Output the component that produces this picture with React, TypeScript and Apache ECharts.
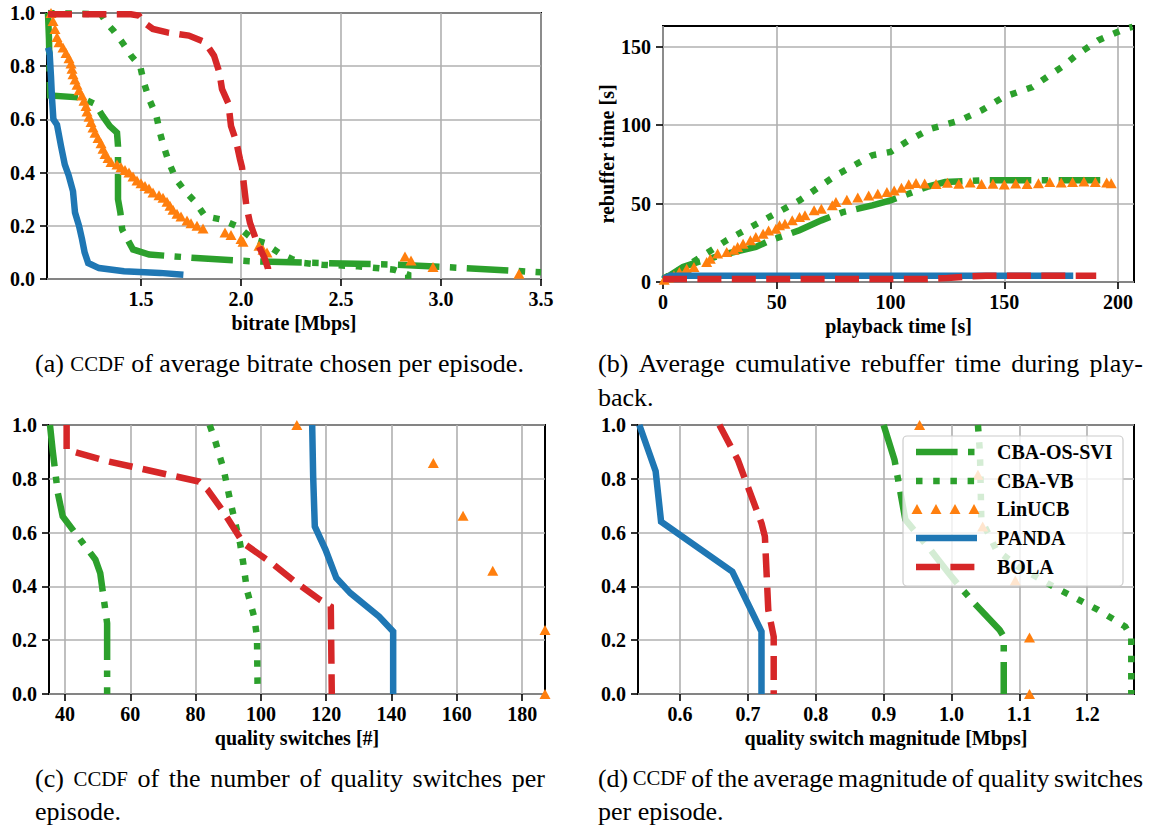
import React, { useEffect, useRef } from "react";
import * as echarts from "echarts";

// ---------- data ----------
// (a) CCDF of average bitrate [Mbps]
const bitrateOsSvi: number[][] = [[1.035, 1.0], [1.04, 0.9], [1.045, 0.69], [1.2, 0.682], [1.272, 0.657], [1.308, 0.613], [1.344, 0.575], [1.38, 0.55], [1.385, 0.5], [1.385, 0.3], [1.397, 0.249], [1.406, 0.186], [1.433, 0.148], [1.46, 0.111], [1.541, 0.092], [1.775, 0.079], [2.045, 0.067], [2.405, 0.06], [2.765, 0.054], [3.124, 0.041], [3.5, 0.025]];
const bitrateVb: number[][] = [[1.035, 1.0], [1.3, 0.995], [1.33, 0.96], [1.362, 0.934], [1.407, 0.889], [1.451, 0.839], [1.496, 0.8], [1.514, 0.739], [1.541, 0.676], [1.577, 0.613], [1.595, 0.55], [1.613, 0.5], [1.64, 0.437], [1.676, 0.374], [1.721, 0.33], [1.775, 0.286], [1.82, 0.236], [1.901, 0.224], [1.982, 0.198], [2.063, 0.148], [2.117, 0.136], [2.189, 0.098], [2.261, 0.073], [2.315, 0.06], [2.405, 0.054], [2.585, 0.048], [2.765, 0.035], [2.836, 0.016], [2.836, 0.0]];
const bitrateLinucb: number[][] = [[1.05, 1.0], [1.06, 0.97], [1.07, 0.94], [1.08, 0.91], [1.09, 0.89], [1.11, 0.87], [1.125, 0.85], [1.14, 0.83], [1.15, 0.81], [1.155, 0.79], [1.16, 0.77], [1.17, 0.75], [1.18, 0.73], [1.19, 0.71], [1.205, 0.69], [1.215, 0.67], [1.225, 0.65], [1.23, 0.63], [1.24, 0.61], [1.25, 0.59], [1.26, 0.57], [1.27, 0.55], [1.285, 0.53], [1.3, 0.51], [1.31, 0.49], [1.32, 0.47], [1.335, 0.455], [1.35, 0.44], [1.38, 0.43], [1.4, 0.42], [1.42, 0.41], [1.44, 0.4], [1.46, 0.385], [1.48, 0.37], [1.5, 0.36], [1.52, 0.35], [1.54, 0.34], [1.56, 0.325], [1.59, 0.315], [1.61, 0.305], [1.63, 0.29], [1.645, 0.275], [1.66, 0.26], [1.68, 0.245], [1.7, 0.235], [1.73, 0.22], [1.75, 0.21], [1.78, 0.2], [1.81, 0.19], [1.92, 0.175], [1.95, 0.165], [2.0, 0.15], [2.01, 0.14], [2.09, 0.125], [2.11, 0.11], [2.13, 0.1], [2.82, 0.085], [2.85, 0.07], [2.96, 0.045], [3.39, 0.02]];
const bitratePanda: number[][] = [[1.035, 0.87], [1.043, 0.85], [1.05, 0.76], [1.055, 0.68], [1.062, 0.6], [1.08, 0.58], [1.1, 0.5], [1.119, 0.43], [1.138, 0.39], [1.16, 0.33], [1.17, 0.25], [1.19, 0.2], [1.205, 0.15], [1.218, 0.1], [1.236, 0.06], [1.29, 0.041], [1.415, 0.029], [1.595, 0.023], [1.712, 0.016]];
const bitrateBola: number[][] = [[1.035, 0.995], [1.45, 0.995], [1.49, 0.99], [1.514, 0.965], [1.559, 0.94], [1.631, 0.927], [1.739, 0.915], [1.82, 0.89], [1.865, 0.84], [1.892, 0.776], [1.905, 0.714], [1.937, 0.66], [1.95, 0.575], [1.975, 0.52], [1.995, 0.45], [2.005, 0.42], [2.015, 0.35], [2.027, 0.274], [2.045, 0.211], [2.081, 0.136], [2.117, 0.08], [2.135, 0.04], [2.135, 0.0]];

// (b) cumulative rebuffer time [s] vs playback time [s]
const rebufOsSvi: number[][] = [[0, 1.5], [8.8, 9.6], [15.2, 12.7], [28, 18], [40.8, 22.3], [47.2, 26.6], [53.6, 29.7], [60, 33], [69.6, 39.3], [79.2, 44.6], [92, 48.9], [100, 52], [108, 56.3], [116, 60.6], [124, 63.7], [140, 64.8], [156, 64.8], [172, 64.8], [196.8, 64.8]];
const rebufVb: number[][] = [[0, 2], [12, 11.7], [28, 26.6], [44, 39.3], [60, 52], [76, 68], [92, 80.8], [100, 82.9], [108, 90.3], [117.6, 97.7], [130.4, 103], [140, 109.4], [149.6, 117.9], [162.4, 124.3], [168.8, 130.7], [175.2, 137], [181.6, 144.5], [191.2, 154], [203.2, 161.5], [206.4, 162.6]];
const rebufLinucb: number[][] = [[0.5, 1.5], [2.4, 2.8], [4.8, 4.2], [7.2, 6.4], [10.4, 8.5], [13.6, 9.6], [19.2, 12.7], [20.8, 14.9], [24, 18.1], [28, 19.1], [31.2, 20.6], [32.8, 22.3], [35.2, 24.4], [38.4, 26.6], [40.8, 28.7], [44, 30.8], [46.4, 32.9], [49.6, 34], [51.2, 36.1], [53.6, 37.2], [56.8, 39.3], [60, 41.4], [62.4, 42.5], [66.4, 45.7], [69.6, 46.7], [74.4, 48.9], [76, 51], [80.8, 52.5], [85.6, 53.8], [90.4, 55.2], [94.4, 56.3], [98.4, 57.4], [101.6, 58.4], [104.8, 60.1], [108, 62.3], [111.2, 63.1], [115, 62.8], [120, 62.5], [125, 63.2], [130, 62.6], [135, 63.4], [140, 62.4], [145, 62.6], [150, 62.2], [155, 62.8], [160, 62.4], [165, 63], [170, 63.8], [175, 63.5], [180, 63.8], [185, 64], [190, 63.8], [195, 63.4], [197, 63]];
const rebufPanda: number[][] = [[0, 2], [3.2, 4.0], [180.3, 4.0]];
const rebufBola: number[][] = [[0, 1.9], [115, 1.9], [125, 2.5], [135, 3.6], [142, 4.0], [190.4, 4.0]];

// (c) CCDF of number of quality switches
const switchesOsSvi: number[][] = [[35.4, 1.0], [36.2, 0.908], [37.8, 0.747], [39.3, 0.66], [49.3, 0.5], [50.8, 0.449], [52.9, 0.263], [52.9, 0.0]];
const switchesVb: number[][] = [[84.3, 1.0], [85.9, 0.945], [88.6, 0.834], [90.3, 0.735], [91.9, 0.648], [93.6, 0.561], [94.6, 0.486], [95.7, 0.387], [97.9, 0.288], [98.8, 0.213], [99, 0.0]];
const switchesLinucb: number[][] = [[111, 1.0], [152.8, 0.859], [161.9, 0.663], [171, 0.458], [187, 0.238], [187, 0.0]];
const switchesPanda: number[][] = [[115.7, 1.0], [116, 0.809], [116.5, 0.623], [119.8, 0.536], [123.1, 0.431], [127.4, 0.375], [136.2, 0.288], [140.5, 0.232], [140.5, 0.0]];
const switchesBola: number[][] = [[40.5, 1.0], [40.5, 0.908], [53.1, 0.865], [81, 0.79], [83.7, 0.759], [88.1, 0.685], [94.6, 0.561], [103.4, 0.486], [111, 0.412], [118.1, 0.35], [121.4, 0.325], [121.7, 0.0]];

// (d) CCDF of average quality switch magnitude [Mbps]
const magnitudeOsSvi: number[][] = [[0.9, 1.0], [0.916, 0.871], [0.932, 0.648], [0.969, 0.536], [0.996, 0.449], [1.012, 0.4], [1.034, 0.337], [1.071, 0.238], [1.077, 0.213], [1.077, 0.0]];
const magnitudeVb: number[][] = [[1.039, 1.0], [1.042, 0.896], [1.044, 0.648], [1.066, 0.536], [1.098, 0.474], [1.141, 0.412], [1.179, 0.362], [1.216, 0.313], [1.256, 0.251], [1.265, 0.213], [1.265, 0.0]];
const magnitudeLinucb: number[][] = [[0.953, 1.0], [1.039, 0.815], [1.046, 0.623], [1.094, 0.422], [1.115, 0.21], [1.115, 0.0]];
const magnitudePanda: number[][] = [[0.54, 1.0], [0.564, 0.828], [0.572, 0.641], [0.677, 0.455], [0.72, 0.232], [0.72, 0.0]];
const magnitudeBola: number[][] = [[0.658, 1.0], [0.685, 0.871], [0.72, 0.635], [0.725, 0.586], [0.73, 0.313], [0.738, 0.213], [0.738, 0.0]];

// tick labels
const ticksBitrate = [1.5, 2.0, 2.5, 3.0, 3.5];
const ticksPlayback = [0, 50, 100, 150, 200];
const ticksRebuffer = [0, 50, 100, 150];
const ticksSwitches = [40, 60, 80, 100, 120, 140, 160, 180];
const ticksMagnitude = [0.6, 0.7, 0.8, 0.9, 1.0, 1.1, 1.2];
const ticksCcdf = [0, 0.2, 0.4, 0.6, 0.8, 1.0];

const seriesNames = ["CBA-OS-SVI", "CBA-VB", "LinUCB", "PANDA", "BOLA"];
const axisTitles = ["bitrate [Mbps]", "playback time [s]", "quality switches [#]", "quality switch magnitude [Mbps]"];

// ---------- styles ----------
const SERIF = '"Liberation Serif", "DejaVu Serif", serif';
const GREEN = "#2ca02c";
const ORANGE = "#ff7f0e";
const BLUE = "#1f77b4";
const RED = "#d62728";
const LW = 6.5;
const DASHED = [24, 10.4];
const DOTTED = [6.5, 10.7];
const DASHDOT = [41.6, 10.4, 6.5, 10.4];
const CAP = 26;

const ctx = document.createElement("canvas").getContext("2d") as CanvasRenderingContext2D;
function tw(t: string, size: number) {
  ctx.font = `${size}px "Liberation Serif"`;
  return ctx.measureText(t).width;
}

type Word = { t: string; sc?: boolean };
function caption(words: Word[], x0: number, y: number, x1: number | null): any[] {
  const sizes = words.map((w) => (w.sc ? CAP * 0.8 : CAP));
  const widths = words.map((w, i) => tw(w.t, sizes[i]));
  const total = widths.reduce((a, b) => a + b, 0);
  const space = tw(" ", CAP);
  let gap = space;
  let scaleX = 1;
  if (x1 != null) {
    gap = (x1 - x0 - total) / (words.length - 1);
    if (gap < space * 0.7) {
      gap = space * 0.7;
      scaleX = (x1 - x0) / (total + gap * (words.length - 1));
    }
  }
  let x = 0;
  const children = words.map((w, i) => {
    const el = {
      type: "text",
      x,
      y: 0,
      style: { text: w.t, fill: "#000", fontFamily: SERIF, fontSize: sizes[i], verticalAlign: "middle" },
    };
    x += widths[i] + gap;
    return el;
  });
  return [{ type: "group", x: x0, y, scaleX, children }];
}
const W = (s: string): Word[] =>
  s.split(" ").map((t) => (t === "CCDF" ? { t, sc: true } : { t }));

function axisCommon(ticks: number[], fmt: (v: number) => string) {
  return {
    type: "value",
    axisLine: { show: false },
    axisTick: { show: true, inside: false, length: 7, customValues: ticks, lineStyle: { color: "#000", width: 1.6 } },
    axisLabel: {
      customValues: ticks,
      color: "#000",
      fontFamily: SERIF,
      fontWeight: "bold",
      fontSize: 20,
      formatter: (v: number) => (ticks.some((t) => Math.abs(t - v) < 1e-9) ? fmt(v) : ""),
    },
    splitLine: { show: true, lineStyle: { color: "#b0b0b0", width: 1.6 } },
  };
}
const f1 = (v: number) => v.toFixed(1);
const f0 = (v: number) => String(Math.round(v));
const nameStyle = { fontFamily: SERIF, fontWeight: "bold", fontSize: 20, color: "#000" };

function App() {
  const ref = useRef<HTMLDivElement>(null);
  useEffect(() => {
    if (!ref.current) return;
    const chart = echarts.init(ref.current, null, { renderer: "svg" });

    const grids = [
      { left: 47, top: 13, width: 494, height: 266 },
      { left: 663, top: 26, width: 471, height: 256 },
      { left: 49, top: 425, width: 496, height: 269 },
      { left: 638, top: 425, width: 496, height: 269 },
    ].map((g) => ({ ...g, show: true, borderColor: "#000", borderWidth: 2, backgroundColor: "transparent", containLabel: false, outerBoundsMode: "none" }));

    const xRanges = [
      [1.03, 3.5, ticksBitrate, f1, 5],
      [0, 207, ticksPlayback, f0, 5],
      [35.1, 187, ticksSwitches, f0, 8],
      [0.538, 1.269, ticksMagnitude, f1, 5],
    ] as any[];
    const xAxes = xRanges.map((r, i) => ({
      ...axisCommon(r[2], r[3]),
      gridIndex: i,
      min: r[0],
      max: r[1],
      splitNumber: r[4],
      name: axisTitles[i],
      nameLocation: "middle",
      nameGap: 34,
      nameTextStyle: nameStyle,
      axisLabel: { ...axisCommon(r[2], r[3]).axisLabel, margin: 10 },
    }));
    const yAxes = [0, 1, 2, 3].map((i) =>
      i === 1
        ? {
            ...axisCommon(ticksRebuffer, f0),
            gridIndex: 1,
            min: 0,
            max: 163.2,
            splitNumber: 3,
            name: "rebuffer time [s]",
            nameLocation: "middle",
            nameGap: 44,
            nameTextStyle: nameStyle,
            axisLabel: { ...axisCommon(ticksRebuffer, f0).axisLabel, margin: 12 },
          }
        : {
            ...axisCommon(ticksCcdf, f1),
            gridIndex: i,
            min: 0,
            max: 1,
            splitNumber: 5,
            axisLabel: { ...axisCommon(ticksCcdf, f1).axisLabel, margin: 12 },
          }
    );

    const panels = [
      [bitrateOsSvi, bitrateVb, bitrateLinucb, bitratePanda, bitrateBola],
      [rebufOsSvi, rebufVb, rebufLinucb, rebufPanda, rebufBola],
      [switchesOsSvi, switchesVb, switchesLinucb, switchesPanda, switchesBola],
      [magnitudeOsSvi, magnitudeVb, magnitudeLinucb, magnitudePanda, magnitudeBola],
    ];
    const lineStyles = [
      { color: GREEN, type: DASHDOT },
      { color: GREEN, type: DOTTED },
      null,
      { color: BLUE, type: "solid" },
      { color: RED, type: DASHED },
    ];
    const series: any[] = [];
    panels.forEach((sets, p) => {
      sets.forEach((data, k) => {
        const ls = lineStyles[k];
        if (ls) {
          series.push({
            type: "line",
            name: seriesNames[k],
            xAxisIndex: p,
            yAxisIndex: p,
            data,
            showSymbol: false,
            symbol: "none",
            smooth: false,
            z: 2 + k,
            lineStyle: { color: ls.color, width: LW, type: ls.type, cap: "butt", join: "miter" },
            itemStyle: { color: ls.color },
          });
        } else {
          series.push({
            type: "scatter",
            name: seriesNames[k],
            xAxisIndex: p,
            yAxisIndex: p,
            data,
            symbol: "triangle",
            symbolSize: [11, 10],
            z: 2 + k,
            itemStyle: { color: ORANGE, opacity: 1 },
          });
        }
      });
    });

    // legend (drawn in panel d)
    const LX = 903, LY = 436;
    const rowY = [452, 481, 509, 538, 567];
    const LZ = 100;
    const legendChildren: any[] = [
      { type: "rect", z: LZ, shape: { x: LX, y: LY, width: 220, height: 150, r: 4 }, style: { fill: "rgba(255,255,255,0.8)", stroke: "#cccccc", lineWidth: 1.2 } },
    ];
    seriesNames.forEach((n, k) => {
      const y = rowY[k];
      const ls = lineStyles[k];
      if (ls) {
        legendChildren.push({
          type: "line",
          z: LZ + 1,
          shape: { x1: 916, y1: y, x2: 977, y2: y },
          style: { stroke: ls.color, lineWidth: LW, lineDash: ls.type === "solid" ? null : ls.type, lineCap: "butt" },
        });
      } else {
        [917, 936, 955, 974].forEach((cx) =>
          legendChildren.push({
            type: "polygon",
            z: LZ + 1,
            shape: { points: [[cx - 5.5, y + 5], [cx + 5.5, y + 5], [cx, y - 5]] },
            style: { fill: ORANGE },
          })
        );
      }
      legendChildren.push({
        type: "text",
        z: LZ + 1,
        x: 997,
        y,
        style: { text: n, fill: "#000", fontFamily: SERIF, fontWeight: "bold", fontSize: 20, verticalAlign: "middle" },
      });
    });

    const graphics: any[] = [
      { type: "group", z: LZ, children: legendChildren },
      ...caption(W("(a) CCDF of average bitrate chosen per episode."), 35, 363, null),
      ...caption(W("(b) Average cumulative rebuffer time during play-"), 598, 363, 1143),
      ...caption(W("back."), 598, 397, null),
      ...caption(W("(c) CCDF of the number of quality switches per"), 35, 778, 545),
      ...caption(W("episode."), 35, 811, null),
      ...caption(W("(d) CCDF of the average magnitude of quality switches"), 598, 778, 1143),
      ...caption(W("per episode."), 598, 811, null),
    ];

    chart.setOption({
      animation: false,
      backgroundColor: "#fff",
      grid: grids,
      xAxis: xAxes,
      yAxis: yAxes,
      series,
      graphic: graphics,
    });
    return () => chart.dispose();
  }, []);
  return <div ref={ref} style={{ position: "absolute", left: 0, top: 0, width: 1153, height: 828 }} />;
}

export default App;
